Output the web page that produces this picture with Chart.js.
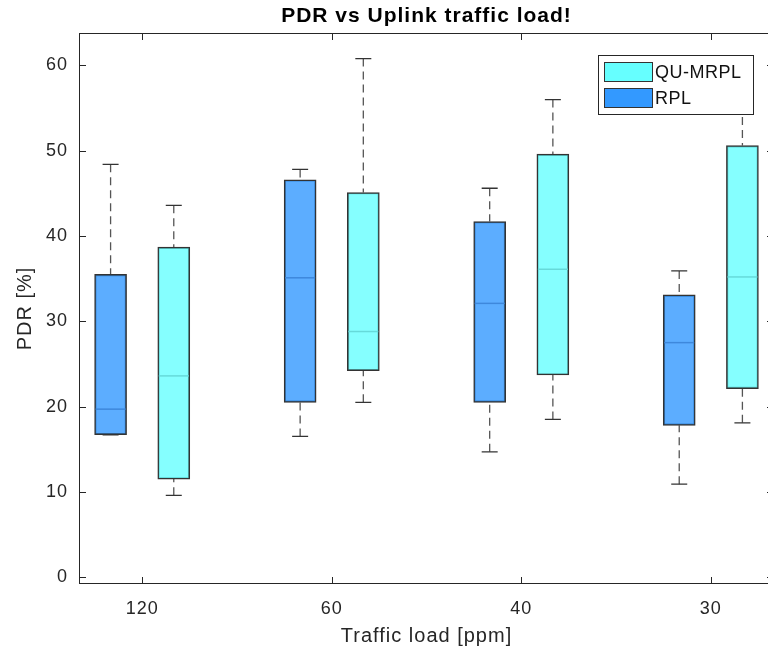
<!DOCTYPE html>
<html>
<head>
<meta charset="utf-8">
<title>PDR vs Uplink traffic load!</title>
<script src="https://cdn.jsdelivr.net/npm/chart.js@4.4.1/dist/chart.umd.min.js"></script>
<style>
  html, body { margin: 0; padding: 0; background: #fff; overflow: hidden; }
  #wrap { width: 790px; height: 656px; }
</style>
</head>
<body>
<div id="wrap"><canvas id="pdrChart" width="790" height="656"></canvas></div>
<script>
// traffic loads (ppm), one tick between each pair of boxes
const loads = ["120", "60", "40", "30"];
const loadTicks = [1.5, 4.5, 7.5, 10.5];
const yTicks = [0, 10, 20, 30, 40, 50, 60];

// where each box sits on the x axis
const rplPos = [1, 4, 7, 10];
const quPos = [2, 5, 8, 11];

// PDR [%] box stats
const rplMin = [16.7, 16.5, 14.7, 10.9];
const rplQ1  = [16.7, 20.5, 20.5, 17.8];
const rplMed = [19.7, 35.1, 32.1, 27.5];
const rplQ3  = [35.5, 46.6, 41.7, 33.1];
const rplMax = [48.4, 47.8, 45.6, 35.9];

const quMin = [9.6, 20.5, 18.5, 18.1];
const quQ1  = [11.5, 24.2, 23.7, 22.1];
const quMed = [23.6, 28.8, 36.1, 35.2];
const quQ3  = [38.7, 45.1, 49.6, 50.6];
const quMax = [43.6, 60.8, 56.0, 57.0];

const AXIS = "#262626";
const FONT = "'Liberation Sans', Arial, sans-serif";

// whiskers, medians, axes box with inward ticks, legend inside the plot
const boxExtras = {
  id: "boxExtras",
  beforeLayout(chart) {
    chart.ctx.letterSpacing = "1px"; // matlab text runs a bit wider
  },
  beforeDraw(chart) {
    chart.ctx.letterSpacing = "1px";
  },
  beforeDatasetsDraw(chart) {
    const ctx = chart.ctx;
    const y = chart.scales.y;
    chart.data.datasets.forEach((ds, d) => {
      chart.getDatasetMeta(d).data.forEach((bar, i) => {
        const x = bar.x;
        const pMin = y.getPixelForValue(ds.whiskLo[i]);
        const pMax = y.getPixelForValue(ds.whiskHi[i]);
        const pQ1 = y.getPixelForValue(ds.data[i].y[0]);
        const pQ3 = y.getPixelForValue(ds.data[i].y[1]);
        ctx.save();
        ctx.strokeStyle = "#555";
        ctx.lineWidth = 1.3;
        ctx.setLineDash([8, 5]);
        ctx.beginPath();
        ctx.moveTo(x, pMax); ctx.lineTo(x, pQ3);
        ctx.moveTo(x, pMin); ctx.lineTo(x, pQ1);
        ctx.stroke();
        ctx.setLineDash([]);
        ctx.strokeStyle = "#333";
        ctx.beginPath();
        ctx.moveTo(x - 8, pMax); ctx.lineTo(x + 8, pMax);
        ctx.moveTo(x - 8, pMin); ctx.lineTo(x + 8, pMin);
        ctx.stroke();
        ctx.restore();
      });
    });
  },
  afterDatasetsDraw(chart) {
    const ctx = chart.ctx;
    const y = chart.scales.y;
    chart.data.datasets.forEach((ds, d) => {
      chart.getDatasetMeta(d).data.forEach((bar, i) => {
        const py = y.getPixelForValue(ds.median[i]);
        const half = bar.width / 2 - 1;
        ctx.save();
        ctx.strokeStyle = ds.medianColor;
        ctx.lineWidth = 1.5;
        ctx.beginPath();
        ctx.moveTo(bar.x - half, py);
        ctx.lineTo(bar.x + half, py);
        ctx.stroke();
        ctx.restore();
      });
    });
  },
  afterDraw(chart) {
    const ctx = chart.ctx;
    const a = chart.chartArea;
    const xs = chart.scales.x, ys = chart.scales.y;
    const tl = 7;
    ctx.save();
    ctx.strokeStyle = AXIS;
    ctx.lineWidth = 1;
    ctx.strokeRect(a.left + 0.5, a.top + 0.5, a.right - a.left - 1, a.bottom - a.top - 1);
    ctx.beginPath();
    yTicks.forEach((v) => {
      const p = Math.round(ys.getPixelForValue(v)) + 0.5;
      ctx.moveTo(a.left, p); ctx.lineTo(a.left + tl, p);
      ctx.moveTo(a.right, p); ctx.lineTo(a.right - tl, p);
    });
    loadTicks.forEach((v) => {
      const p = Math.round(xs.getPixelForValue(v)) + 0.5;
      ctx.moveTo(p, a.bottom); ctx.lineTo(p, a.bottom - tl);
      ctx.moveTo(p, a.top); ctx.lineTo(p, a.top + tl);
    });
    ctx.stroke();

    // legend, QU-MRPL listed first
    const w = 155, h = 59;
    const lx = a.right - 21 - w, ly = a.top + 22;
    ctx.fillStyle = "#fff";
    ctx.fillRect(lx, ly, w, h);
    ctx.strokeRect(lx + 0.5, ly + 0.5, w, h);
    const order = [1, 0];
    ctx.font = "18px " + FONT;
    ctx.textBaseline = "middle";
    ctx.letterSpacing = "0.5px";
    order.forEach((d, k) => {
      const ds = chart.data.datasets[d];
      const py = ly + 7 + k * 26;
      ctx.fillStyle = ds.legendColor;
      ctx.fillRect(lx + 6, py, 48, 19);
      ctx.strokeStyle = "#333";
      ctx.strokeRect(lx + 6.5, py + 0.5, 48, 19);
      ctx.fillStyle = "#111";
      ctx.fillText(ds.label, lx + 57, py + 11);
    });
    ctx.restore();
  },
};

const rplData = rplPos.map((x, i) => ({ x, y: [rplQ1[i], rplQ3[i]] }));
const quData = quPos.map((x, i) => ({ x, y: [quQ1[i], quQ3[i]] }));

new Chart(document.getElementById("pdrChart"), {
  type: "bar",
  data: {
    datasets: [
      {
        label: "RPL",
        data: rplData,
        whiskLo: rplMin,
        whiskHi: rplMax,
        median: rplMed,
        medianColor: "rgb(62,136,220)",
        legendColor: "#3399ff",
        backgroundColor: "rgba(51,153,255,0.8)",
        borderColor: "#333",
        borderWidth: 1.5,
        borderSkipped: false,
      },
      {
        label: "QU-MRPL",
        data: quData,
        whiskLo: quMin,
        whiskHi: quMax,
        median: quMed,
        medianColor: "rgb(102,218,218)",
        legendColor: "#66ffff",
        backgroundColor: "rgba(102,255,255,0.8)",
        borderColor: "#333",
        borderWidth: 1.5,
        borderSkipped: false,
      },
    ],
  },
  options: {
    responsive: false,
    animation: false,
    events: [],
    grouped: false,
    barThickness: 32,
    layout: { padding: { left: 0, right: 16, top: 0, bottom: 0 } },
    plugins: {
      legend: { display: false },
      tooltip: { enabled: false },
      title: {
        display: true,
        fullSize: false,
        text: "PDR vs Uplink traffic load!",
        color: "#000",
        font: { family: FONT, size: 21, weight: "bold" },
        padding: { top: 3.4, bottom: 4.4 },
      },
    },
    scales: {
      x: {
        type: "linear",
        min: 0.5,
        max: 11.5,
        offset: false,
        grid: { display: false, drawTicks: false },
        border: { display: false },
        afterBuildTicks: (s) => { s.ticks = loadTicks.map((v) => ({ value: v })); },
        afterFit: (s) => { s.height = 72; },
        ticks: {
          color: AXIS,
          padding: 14,
          maxRotation: 0,
          autoSkip: false,
          font: { family: FONT, size: 18 },
          callback: (v) => loads[loadTicks.indexOf(v)],
        },
        title: {
          display: true,
          text: "Traffic load [ppm]",
          color: AXIS,
          font: { family: FONT, size: 20 },
          padding: { top: 0, bottom: 8 },
        },
      },
      y: {
        min: -0.8,
        max: 63.8,
        grid: { display: false, drawTicks: false },
        border: { display: false },
        afterBuildTicks: (s) => { s.ticks = yTicks.map((v) => ({ value: v })); },
        afterFit: (s) => { s.width = 79; },
        ticks: {
          color: AXIS,
          padding: 11,
          font: { family: FONT, size: 18 },
        },
        title: {
          display: true,
          text: "PDR [%]",
          color: AXIS,
          font: { family: FONT, size: 20 },
          padding: { top: 13, bottom: 0 },
        },
      },
    },
  },
  plugins: [boxExtras],
});
</script>
</body>
</html>
